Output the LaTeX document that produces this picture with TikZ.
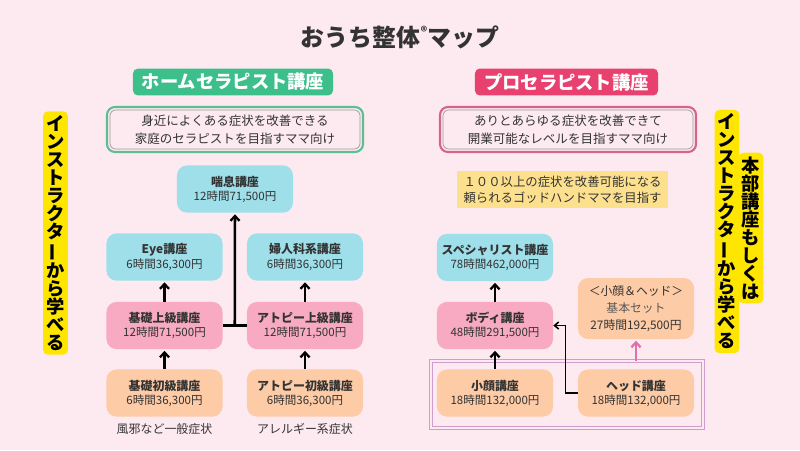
\documentclass[tikz,border=0pt]{standalone}
\usepackage{fontspec}
\setmainfont{Noto Sans CJK JP}
\usetikzlibrary{arrows.meta, calc}
\definecolor{bgpink}{HTML}{FDEAF0}
\definecolor{grnhead}{HTML}{3DBF8C}
\definecolor{redhead}{HTML}{E8416F}
\definecolor{grnline}{HTML}{5DBE96}
\definecolor{redline}{HTML}{D6628E}
\definecolor{skyc}{HTML}{9EDFEA}
\definecolor{rosec}{HTML}{F7AAC2}
\definecolor{peachc}{HTML}{FDCBA6}
\definecolor{yel}{HTML}{FFE600}
\definecolor{goalc}{HTML}{FCE08E}
\definecolor{mauve}{HTML}{CF9ECF}
\definecolor{pinkarr}{HTML}{E46EAA}
\definecolor{txtdark}{HTML}{333333}
\newcommand{\tbar}{\rotatebox[origin=c]{90}{ー}}

\begin{document}
\begin{tikzpicture}
                                [
                                    x=0.025cm, y=-0.025cm,
                                    course/.style = {shape=rectangle, rounded corners=0.25cm, minimum width=2.9cm, minimum height=1.18cm, align=center, text=txtdark, font=\fontsize{8.2}{10}\selectfont},
                                    cbox/.style = {course, fill=skyc},
                                    pbox/.style = {course, fill=rosec},
                                    obox/.style = {course, fill=peachc},
                                    hdr/.style = {shape=rectangle, rounded corners=0.12cm, minimum height=0.65cm, text=white, font=\bfseries\fontsize{13}{13}\selectfont},
                                    desc/.style = {shape=rectangle, rounded corners=0.2cm, minimum width=6.4cm, minimum height=1.125cm, line width=1.5pt, align=center, text=txtdark, font=\fontsize{8.9}{12.8}\selectfont},
                                    inner/.style = {draw=black!40, line width=0.5pt, rounded corners=0.15cm},
                                    tate/.style = {shape=rectangle, fill=yel, rounded corners=0.12cm, minimum width=0.62cm, inner xsep=0.05cm, inner ysep=0.1cm, align=center, font=\bfseries\fontsize{13}{12.8}\selectfont},
                                    arr/.style = {-{Straight Barb[length=3.5pt, width=6.5pt, line width=1.6pt]}, line width=1.8pt, shorten >=1pt},
                                ]

                                \fill[bgpink] (0,0) rectangle (800,450);

                                \node[text=txtdark, font=\bfseries\fontsize{17}{17}\selectfont] (title) at (400,37) {おうち整体\raisebox{0.75ex}{\fontsize{9}{9}\selectfont ®}マップ};

                                \node[hdr, fill=grnhead, minimum width=5cm] (homeHead) at (233,82) {ホームセラピスト講座};
                                \node[hdr, fill=redhead, minimum width=4.575cm] (proHead) at (566.5,82) {プロセラピスト講座};

                                \node[desc, draw=grnline] (homeDesc) at (235,129.5) {身近によくある症状を改善できる\\家庭のセラピストを目指すママ向け};
                                \node[desc, draw=redline] (proDesc) at (568,129.5) {ありとあらゆる症状を改善できて\\開業可能なレベルを目指すママ向け};
                                \draw[inner] ([shift={(4,4)}]homeDesc.north west) rectangle ([shift={(-4,-4)}]homeDesc.south east);
                                \draw[inner] ([shift={(4,4)}]proDesc.north west) rectangle ([shift={(-4,-4)}]proDesc.south east);

                                \node[tate] (leftTate) at (55.5,233) {イ\\ン\\ス\\ト\\ラ\\ク\\タ\\\tbar\\か\\ら\\学\\べ\\る};
                                \node[tate] (rightTateB) at (751,228) {本\\部\\講\\座\\も\\し\\く\\は};
                                \node[tate] (rightTateA) at (727,231.5) {イ\\ン\\ス\\ト\\ラ\\ク\\タ\\\tbar\\か\\ら\\学\\べ\\る};

                                \node[cbox] (zensoku) at (235,189) {{\bfseries\fontsize{8.5}{10}\selectfont 喘息講座}\\12時間71,500円};
                                \node[cbox] (eye) at (164.5,257) {{\bfseries\fontsize{8.5}{10}\selectfont Eye講座}\\6時間36,300円};
                                \node[cbox] (fujin) at (305,257) {{\bfseries\fontsize{8.5}{10}\selectfont 婦人科系講座}\\6時間36,300円};
                                \node[pbox] (kisoJo) at (164.5,325.5) {{\bfseries\fontsize{8.5}{10}\selectfont 基礎上級講座}\\12時間71,500円};
                                \node[pbox] (atoJo) at (305,325.5) {{\bfseries\fontsize{8.5}{10}\selectfont アトピー上級講座}\\12時間71,500円};
                                \node[obox] (kisoSho) at (164.5,393) {{\bfseries\fontsize{8.5}{10}\selectfont 基礎初級講座}\\6時間36,300円};
                                \node[obox] (atoSho) at (305,393) {{\bfseries\fontsize{8.5}{10}\selectfont アトピー初級講座}\\6時間36,300円};

                                \node[text=txtdark, font=\fontsize{8.5}{10}\selectfont] (kisoNote) at (164.5,429) {風邪など一般症状};
                                \node[text=txtdark, font=\fontsize{8.5}{10}\selectfont] (atoNote) at (305,429) {アレルギー系症状};

                                \node[fill=goalc, minimum width=5.275cm, minimum height=0.875cm, align=center, text=txtdark, font=\fontsize{8.8}{11.4}\selectfont] (proGoal) at (562.5,189.5) {１００以上の症状を改善可能になる\\頼られるゴッドハンドママを目指す};

                                \node[draw=mauve, double=bgpink, double distance=1.2pt, line width=0.55pt, minimum width=6.8cm, minimum height=1.675cm] (headSet) at (567,394.5) {};

                                \node[cbox] (special) at (495,257.5) {{\bfseries\fontsize{8.5}{10}\selectfont スペシャリスト講座}\\78時間462,000円};
                                \node[pbox] (body) at (495,325.5) {{\bfseries\fontsize{8.5}{10}\selectfont ボディ講座}\\48時間291,500円};
                                \node[obox] (kogao) at (495,393) {{\bfseries\fontsize{8.5}{10}\selectfont 小顔講座}\\18時間132,000円};
                                \node[obox] (head) at (636,393) {{\bfseries\fontsize{8.5}{10}\selectfont ヘッド講座}\\18時間132,000円};
                                \node[obox, minimum height=1.525cm, font=\fontsize{8.4}{12}\selectfont] (kihon) at (636,308.5) {＜小顔＆ヘッド＞\\{\color{black!65}基本セット}\\27時間192,500円};

                                \coordinate (jct) at ($(kisoJo.east)!0.5!(atoJo.west)$);

                                \draw [arr] (kisoSho.north) -- (kisoJo.south);
                                \draw [arr] (kisoJo.north) -- (eye.south);
                                \draw [arr] (atoSho.north) -- (atoJo.south);
                                \draw [arr] (atoJo.north) -- (fujin.south);
                                \draw [line width=1.8pt] (kisoJo.east) -- (atoJo.west);
                                \draw [arr] (jct) -- (zensoku.south);

                                \draw [arr] (kogao.north) -- (body.south);
                                \draw [arr] (body.north) -- (special.south);
                                \draw [-{Straight Barb[length=3pt, width=5pt]}, line width=1.1pt] (head.west) -- ++(-12,0) |- (body.east);
                                \draw [arr, draw=pinkarr] (headSet.north -| kihon.south) -- (kihon.south);
                            \end{tikzpicture}
\end{document}
